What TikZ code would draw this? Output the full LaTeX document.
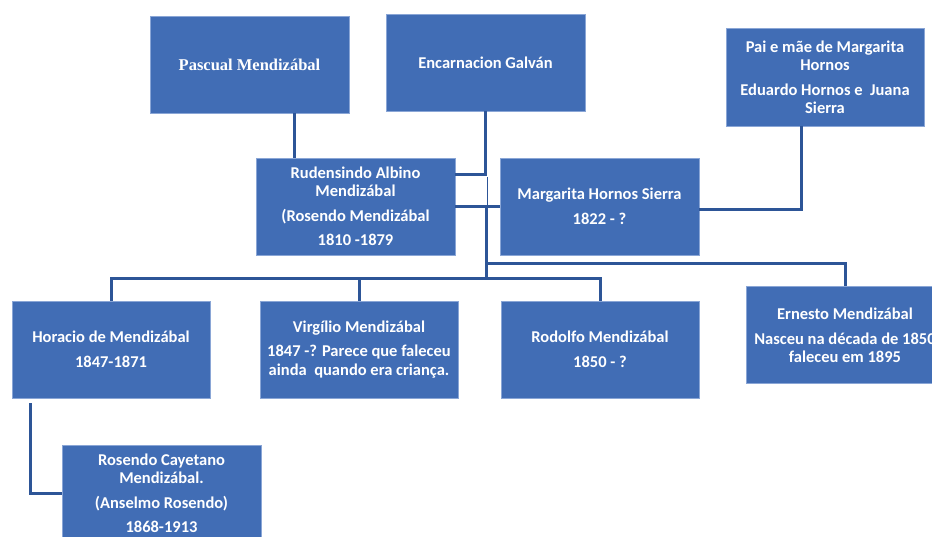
\documentclass[tikz,border=0pt]{standalone}
\usepackage{fontspec}
\setmainfont{Carlito}
\newfontfamily\serifbox{Liberation Serif}
\definecolor{boxblue}{HTML}{416DB5}
\definecolor{boxedge}{HTML}{8AA6D6}
\definecolor{linkblue}{HTML}{2D5597}
\begin{document}
\begin{tikzpicture}[x=1pt,y=-1pt,
  person/.style={rectangle, fill=boxblue, draw=boxedge, line width=0.8pt,
    minimum width=199pt, minimum height=97pt, inner sep=0pt, align=center,
    text=white, font=\fontsize{16.5}{18}\selectfont\bfseries},
  link/.style={draw=linkblue, line width=3pt},
  thinlink/.style={draw=linkblue, line width=1pt}]
\useasboundingbox (0,0) rectangle (932,536);
\clip (0,0) rectangle (932,536);
\fill[white] (0,0) rectangle (932,536);

\node[person, font=\fontsize{16.5}{18}\selectfont\serifbox\bfseries] (pascual) at (249.5,64.5) {Pascual Mendizábal};
\node[person] (encarn) at (485.5,62.5) {Encarnacion Galván};
\node[person, minimum width=198pt, minimum height=98pt] (pai) at (825,77)
  {Pai e mãe de Margarita\\Hornos\\[7pt]Eduardo Hornos e\ \ Juana\\Sierra};
\node[person] (rud) at (355.5,206.5)
  {Rudensindo Albino\\Mendizábal\\[7pt](Rosendo Mendizábal\\[6pt]1810 -1879};
\node[person] (marg) at (599.5,206.5) {Margarita Hornos Sierra\\[7pt]1822 - ?};
\node[person, minimum width=198pt] (hor) at (111,349.5) {Horacio de Mendizábal\\[7pt]1847-1871};
\node[person, minimum width=198pt] (vir) at (359,349.5)
  {Virgílio Mendizábal\\[6pt]1847 -? Parece que faleceu\\[1pt]ainda\ \ quando era criança.};
\node[person, minimum width=198pt] (rod) at (600,349.5) {Rodolfo Mendizábal\\[7pt]1850 - ?};
\node[person, minimum width=198pt] (ern) at (845,335)
  {Ernesto Mendizábal\\[7pt]Nasceu na década de 1850\\faleceu em 1895};
\node[person] (ros) at (161.5,493.5)
  {Rosendo Cayetano\\Mendizábal.\\[7pt](Anselmo Rosendo)\\[6pt]1868-1913};

\coordinate (wed) at (486,206.5);
\coordinate (bus) at (486,278);
\coordinate (busr) at (486,263);
\coordinate (tA) at (487,177);
\coordinate (tB) at (487,205);

\draw[link] ([xshift=44.5pt]pascual.south) -- ([xshift=44.5pt]pascual.south |- rud.north);
\draw[link] (encarn.south) |- ([yshift=32.5pt]rud.east);
\draw[thinlink] (tA) -- (tB);
\draw[link] (rud.east) -- (marg.west);
\draw[link] ([xshift=-24pt]pai.south) |- ([yshift=-2.5pt]marg.east);
\draw[link] (wed) -- (bus);
\draw[link] (hor.north) |- (bus) -| (rod.north);
\draw[link] (vir.north) -- (vir.north |- bus);
\draw[link] (busr) -| (ern.north);
\draw[link] ([xshift=-81pt,yshift=-5pt]hor.south) |- (ros.west);
\end{tikzpicture}
\end{document}
